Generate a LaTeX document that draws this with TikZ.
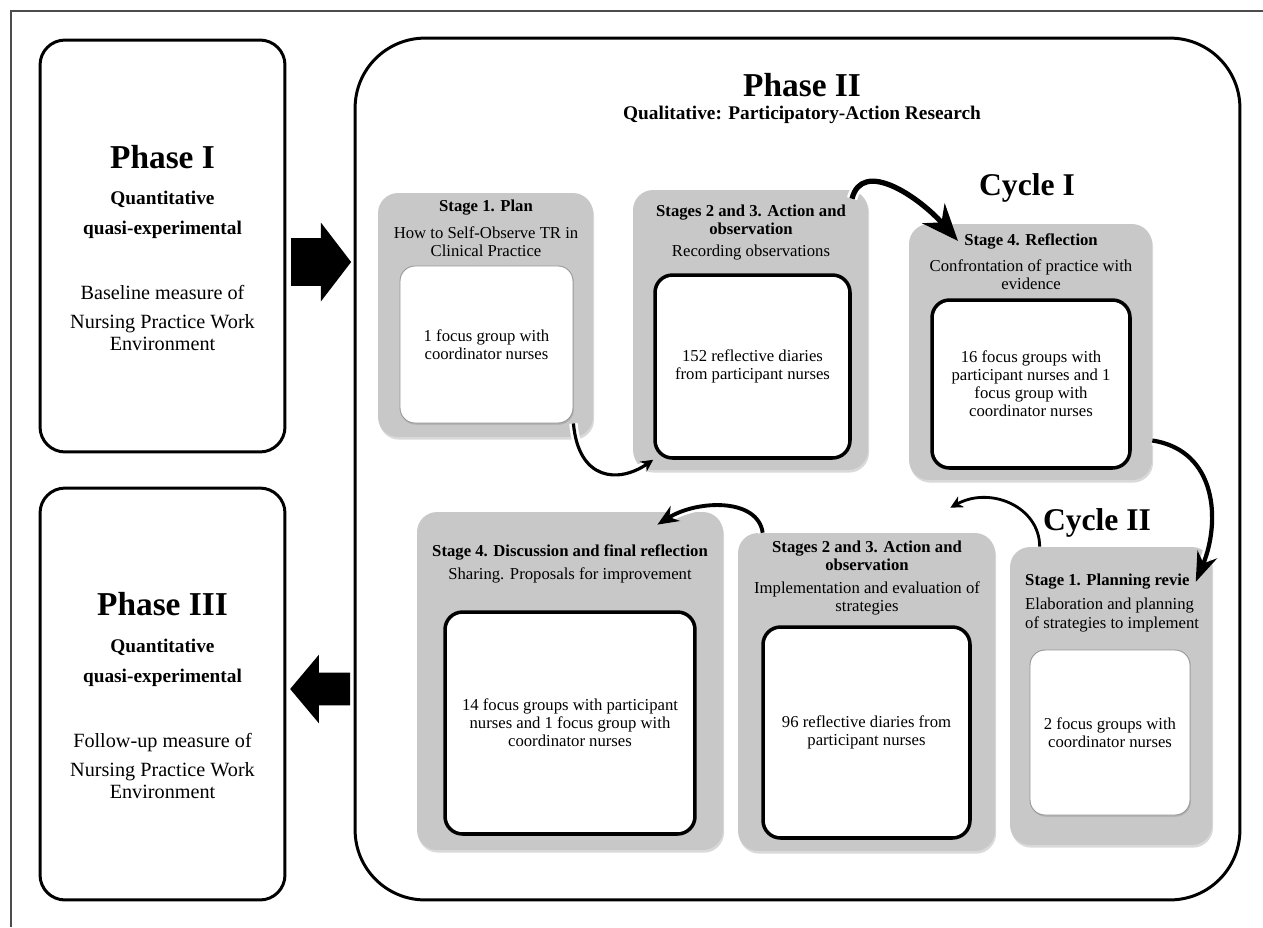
\documentclass[tikz,border=0pt]{standalone}
\usepackage{fontspec}
\setmainfont{Liberation Serif}
\usetikzlibrary{arrows.meta,shapes.arrows,shadows}

\definecolor{stagegray}{RGB}{200,200,200}
\definecolor{thinline}{RGB}{150,150,150}

\newcommand{\phasehead}{\fontsize{19}{22}\selectfont\bfseries}
\newcommand{\phasesub}{\fontsize{11}{12}\selectfont\bfseries}
\newcommand{\phasedesc}{\fontsize{11.5}{12.5}\selectfont}
\newcommand{\cyclehead}{\fontsize{18}{20}\selectfont\bfseries}
\newcommand{\stagehead}{\fontsize{9.5}{10.5}\selectfont\bfseries}
\newcommand{\stagebody}{\fontsize{9.5}{10.3}\selectfont}

\tikzset{
  phasebox/.style={draw, line width=1.7pt, rounded corners=0.5cm},
  stagebg/.style={fill=stagegray, rounded corners=0.4cm,
    drop shadow={shadow xshift=0.6pt, shadow yshift=-1.5pt, opacity=0.3}},
  inthick/.style={draw, fill=white, line width=2pt, rounded corners=0.35cm,
    align=center, font=\stagebody},
  inthin/.style={draw=thinline, fill=white, line width=0.5pt, rounded corners=0.3cm,
    align=center, font=\stagebody,
    drop shadow={shadow xshift=0.5pt, shadow yshift=-1pt, opacity=0.3}},
  stitle/.style={align=center, font=\stagehead},
  ssub/.style={align=center, font=\stagebody},
  bigarrow/.style={single arrow, fill=black, inner xsep=0pt, minimum height=1.2cm},
  curvarrow/.style n args={3}{line width=#1, -{Stealth[length=#2, width=#3]},
    preaction={draw=white, line width=#1+3pt, -{Stealth[length=#2, width=#3]}}}
}

\begin{document}
\begin{tikzpicture}[x=0.02cm, y=-0.02cm]
    \useasboundingbox (0,0) rectangle (1263,927);
    \draw[line width=0.6pt, black!70] (11,927) -- (11,11) -- (1263,11);

    % phase I and III
    \node[phasebox, minimum width=4.9cm, minimum height=8.24cm] (ph1) at (162.5,246) {};
    \node[font=\phasehead] (ph1title) at (162.5,157) {Phase I};
    \node[font=\phasesub, align=center] (ph1sub) at (162.5,215) {Quantitative\\[5pt]quasi-experimental};
    \node[font=\phasedesc, align=center] (ph1desc) at (162.5,318) {Baseline measure of\\[4.5pt]Nursing Practice Work\\Environment};

    \node[phasebox, minimum width=4.9cm, minimum height=8.24cm] (ph3) at (162.5,694) {};
    \node[font=\phasehead] (ph3title) at (162.5,604) {Phase III};
    \node[font=\phasesub, align=center] (ph3sub) at (162.5,663) {Quantitative\\[5pt]quasi-experimental};
    \node[font=\phasedesc, align=center] (ph3desc) at (162.5,766) {Follow-up measure of\\[4.5pt]Nursing Practice Work\\Environment};

    % phase II
    \node[draw, line width=1.7pt, rounded corners=1.4cm, minimum width=17.7cm, minimum height=17.24cm] (ph2) at (797.5,469) {};
    \node[font=\phasehead] (ph2title) at (802,85) {Phase II};
    \node[font=\phasesub] (ph2sub) at (802,115) {Qualitative: Participatory-Action Research};

    \node[bigarrow, inner ysep=0.47cm, minimum width=1.56cm, single arrow head extend=0.31cm, single arrow tip angle=105] (toII) at (312,262) {};
    \node[bigarrow, inner ysep=0.32cm, minimum width=1.36cm, single arrow head extend=0.36cm, single arrow tip angle=100, shape border rotate=180] (toIII) at (327,689) {};

    \node[font=\cyclehead] (cyc1) at (1027,188) {Cycle I};
    \node[font=\cyclehead] (cyc2) at (1097,523) {Cycle II};

    % cycle I
    \node[stagebg, minimum width=4.3cm, minimum height=4.88cm] (planbg1) at (485.5,315) {};
    \node[stitle] (plantitle1) at (486,208) {Stage 1. Plan};
    \node[ssub] (plansub1) at (486,241.5) {How to Self-Observe TR in\\Clinical Practice};
    \node[inthin, minimum width=3.46cm, minimum height=3.14cm] (planin) at (486.5,344.5) {1 focus group with\\coordinator nurses};

    \node[stagebg, minimum width=4.7cm, minimum height=5.6cm] (actbg) at (750.5,330) {};
    \node[stitle] (acttitle) at (751,220) {Stages 2 and 3. Action and\\observation};
    \node[ssub] (actsub) at (751,253) {Recording observations};
    \node[inthick, minimum width=3.9cm, minimum height=3.66cm] (actin) at (752.5,366.5) {152 reflective diaries\\from participant nurses};

    \node[stagebg, minimum width=4.86cm, minimum height=5.12cm] (refbg) at (1030.5,352) {};
    \node[stitle] (reftitle) at (1031,241) {Stage 4. Reflection};
    \node[ssub] (refsub) at (1031,275) {Confrontation of practice with\\evidence};
    \node[inthick, minimum width=3.96cm, minimum height=3.36cm] (refin) at (1031,384) {16 focus groups with\\participant nurses and 1\\focus group with\\coordinator nurses};

    % cycle II
    \node[stagebg, minimum width=4.04cm, minimum height=5.96cm] (planbg) at (1111,696) {};
    \node[stitle, anchor=west] (plantitle) at (1019,582) {Stage 1. Planning revie};
    \node[ssub, align=left, anchor=west] (plansub) at (1019,615) {Elaboration and planning\\of strategies to implement};
    \node[inthin, minimum width=3.2cm, minimum height=3.3cm] (planin2) at (1110,732.5) {2 focus groups with\\coordinator nurses};

    \node[stagebg, minimum width=5.14cm, minimum height=6.36cm] (mbg) at (866.5,692) {};
    \node[stitle] (mtitle) at (867,556) {Stages 2 and 3. Action and\\observation};
    \node[ssub] (msub) at (867,598.5) {Implementation and evaluation of\\strategies};
    \node[inthick, minimum width=4.14cm, minimum height=4.22cm] (min) at (866.5,732.5) {96 reflective diaries from\\participant nurses};

    \node[stagebg, minimum width=6.12cm, minimum height=6.76cm] (dbg) at (570,681) {};
    \node[stitle] (dtitle) at (570,552) {Stage 4. Discussion and final reflection};
    \node[ssub] (dsub) at (570,575) {Sharing. Proposals for improvement};
    \node[inthick, minimum width=5cm, minimum height=4.44cm] (din) at (570,723) {14 focus groups with participant\\nurses and 1 focus group with\\coordinator nurses};

    % curved arrows
    \draw[curvarrow={1.8pt}{7pt}{7pt}] (planin.south east) .. controls +(5,57) and +(-35,24) .. (actin.south west);
    \draw[curvarrow={3pt}{21pt}{17pt}] (acttitle.north east) .. controls +(10,-40) and +(-40,-45) .. (reftitle.west);
    \draw[curvarrow={2.4pt}{17pt}{12pt}] (refbg.-36) .. controls +(65,10) and +(25,-60) .. (plantitle.east);
    \draw[curvarrow={1.6pt}{7pt}{7pt}] ([xshift=0.6cm]planbg.north west) .. controls +(0,-40) and +(40,-22) .. ([shift={(-45,-25)}]mbg.north east);
    \draw[curvarrow={2.2pt}{12pt}{10pt}] ([xshift=0.5cm]mbg.north west) .. controls +(-5,-35) and +(40,-25) .. ([shift={(-66,13)}]dbg.north east);
\end{tikzpicture}
\end{document}
